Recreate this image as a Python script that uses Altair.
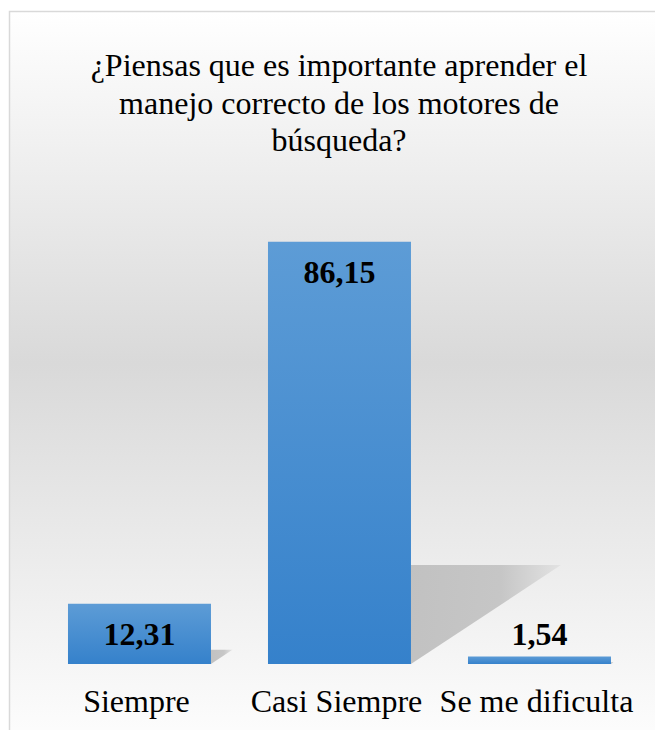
import altair as alt
import pandas as pd

# ---- data -------------------------------------------------------------
categories = ["Siempre", "Casi Siempre", "Se me dificulta"]
values = [12.31, 86.15, 1.54]
title_lines = [
    "¿Piensas que es importante aprender el",
    "manejo correcto de los motores de",
    "búsqueda?",
]

df = pd.DataFrame({"categoria": categories, "valor": values})
one = pd.DataFrame({"k": [0]})

FONT = "Liberation Serif"
W, H = 655, 664

# ---- styles -----------------------------------------------------------
bg_grad = alt.LinearGradient(
    gradient="linear",
    stops=[
        alt.GradientStop(color="#ffffff", offset=0),
        alt.GradientStop(color="#d9d9d9", offset=0.47),
        alt.GradientStop(color="#ffffff", offset=1),
    ],
    x1=0, x2=0, y1=0, y2=1,
)
bar_grad = alt.LinearGradient(
    gradient="linear",
    stops=[
        alt.GradientStop(color="#5D9CD6", offset=0),
        alt.GradientStop(color="#3581CB", offset=1),
    ],
    x1=0, x2=0, y1=0, y2=1,
)
shadow_grad = alt.LinearGradient(
    gradient="linear",
    stops=[
        alt.GradientStop(color="#bfbfbf", offset=0),
        alt.GradientStop(color="#c4c4c4", offset=0.6),
        alt.GradientStop(color="#e2e2e2", offset=1),
    ],
    x1=0, x2=1, y1=0, y2=0,
)

x_scale = alt.Scale(paddingInner=0.285, paddingOuter=0.28, align=0.607)
y_scale = alt.Scale(domain=[0, 135.51], nice=False, zero=True)

x_axis = alt.Axis(
    title=None, labelAngle=0, domain=False, ticks=False,
    labelPadding=47, labelBaseline="alphabetic", labelFont=FONT,
    labelFontSize=32, labelColor="#000000", grid=False, zindex=2,
    labelLimit=0, labelOverlap=False, labelOffset=-3,
)
x_enc = alt.X("categoria:N", sort=categories, scale=x_scale, axis=x_axis)
y_enc = alt.Y("valor:Q", scale=y_scale, axis=None)

base = alt.Chart(df)

background = alt.Chart(one).mark_rect(
    fill=bg_grad, stroke="#d9d9d9", strokeWidth=1.5
).encode(
    x=alt.value(9.5), x2=alt.value(720), y=alt.value(11.5), y2=alt.value(760)
)

title = alt.Chart(one).mark_text(
    font=FONT, fontSize=32, align="center",
    baseline="alphabetic", lineHeight=37.5, color="#000000",
).encode(x=alt.value(339), y=alt.value(76), text=alt.value(title_lines))

shadow = base.transform_calculate(cero="0").mark_point(
    shape="M0,0 L0,-0.66 L1,-0.66 Z", filled=True, fill=shadow_grad,
    opacity=0.95, strokeWidth=0,
).encode(
    x=alt.X("categoria:N", sort=categories, scale=x_scale, bandPosition=1, axis=x_axis),
    y=alt.Y("cero:Q", scale=y_scale, axis=None),
    size=alt.Size(
        "valor:Q",
        scale=alt.Scale(type="pow", exponent=2, domain=[0, 100], range=[0, 121104]),
        legend=None,
    ),
)

bars = base.mark_bar(fill=bar_grad).encode(x=x_enc, y=y_enc)

label_expr = "replace(format(datum.valor, '.2f'), '.', ',')"
inside = base.transform_filter("datum.valor >= 5").transform_calculate(
    etiqueta=label_expr
).mark_text(
    font=FONT, fontSize=32, fontWeight="bold", baseline="alphabetic",
    dy=41, color="#000000",
).encode(x=x_enc, y=y_enc, text="etiqueta:N")

above = base.transform_filter("datum.valor < 5").transform_calculate(
    etiqueta=label_expr
).mark_text(
    font=FONT, fontSize=32, fontWeight="bold", baseline="alphabetic",
    dy=-11, color="#000000",
).encode(x=x_enc, y=y_enc, text="etiqueta:N")

chart = alt.layer(background, title, shadow, bars, inside, above).properties(
    width=W, height=H,
    padding={"left": 0, "top": 0, "right": 0, "bottom": 66},
    autosize=alt.AutoSizeParams(type="none"),
    background="white",
).configure_view(stroke=None)

chart.save("out.html", embed_options={"renderer": "svg", "actions": False})
